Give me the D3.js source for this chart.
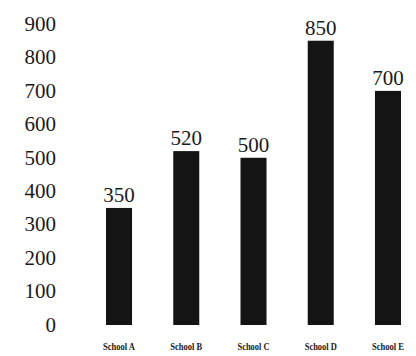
<!DOCTYPE html>
<html>
<head>
<meta charset="utf-8">
<script src="https://cdn.jsdelivr.net/npm/d3@7"></script>
<style>
  html, body { margin: 0; padding: 0; background: #fff; }
  svg { display: block; }
</style>
</head>
<body>
<svg id="chart" width="416" height="356" font-family="Liberation Serif"></svg>
<script>
// Enrollment per school
const schools = ["School A", "School B", "School C", "School D", "School E"];
const students = [350, 520, 500, 850, 700];
const yTicks = [0, 100, 200, 300, 400, 500, 600, 700, 800, 900];

const fontFamily = "Liberation Serif";
const ink = "#1a1a1a";
const svg = d3.select("#chart");

const y = d3.scaleLinear().domain([0, 900]).range([325, 24]);
const x = d3.scaleBand()
  .domain(schools)
  .range([85.4, 421.6])
  .paddingInner(0.613)
  .paddingOuter(0.3065);

// Y axis: labels only, no line or tick marks
const yAxis = svg.append("g")
  .attr("transform", "translate(56,0)")
  .call(d3.axisLeft(y).tickValues(yTicks).tickSize(0).tickPadding(0))
  .attr("font-family", fontFamily)
  .attr("font-size", 21);
yAxis.select(".domain").remove();
yAxis.selectAll("text")
  .attr("font-family", fontFamily)
  .attr("fill", ink)
  .attr("dy", "0.3em");

// Bars
svg.append("g").selectAll("rect")
  .data(schools)
  .join("rect")
  .attr("x", d => x(d))
  .attr("width", x.bandwidth())
  .attr("y", (d, i) => y(students[i]))
  .attr("height", (d, i) => y(0) - y(students[i]))
  .attr("fill", "#141414");

// Value labels above bars
svg.append("g").selectAll("text")
  .data(schools)
  .join("text")
  .attr("x", d => x(d) + x.bandwidth() / 2)
  .attr("y", (d, i) => y(students[i]) - 6)
  .attr("text-anchor", "middle")
  .attr("font-family", fontFamily)
  .attr("font-size", 21)
  .attr("fill", ink)
  .text((d, i) => students[i]);

// X axis: category labels only
const xAxis = svg.append("g")
  .attr("transform", "translate(0,341)")
  .call(d3.axisBottom(x).tickSize(0).tickPadding(0))
  .attr("font-family", fontFamily)
  .attr("font-size", 10)
  .attr("font-weight", "bold");
xAxis.select(".domain").remove();
xAxis.selectAll("text")
  .attr("font-family", fontFamily)
  .attr("fill", ink)
  .attr("dy", "0.9em")
  .attr("textLength", 32)
  .attr("lengthAdjust", "spacingAndGlyphs");
</script>
</body>
</html>
